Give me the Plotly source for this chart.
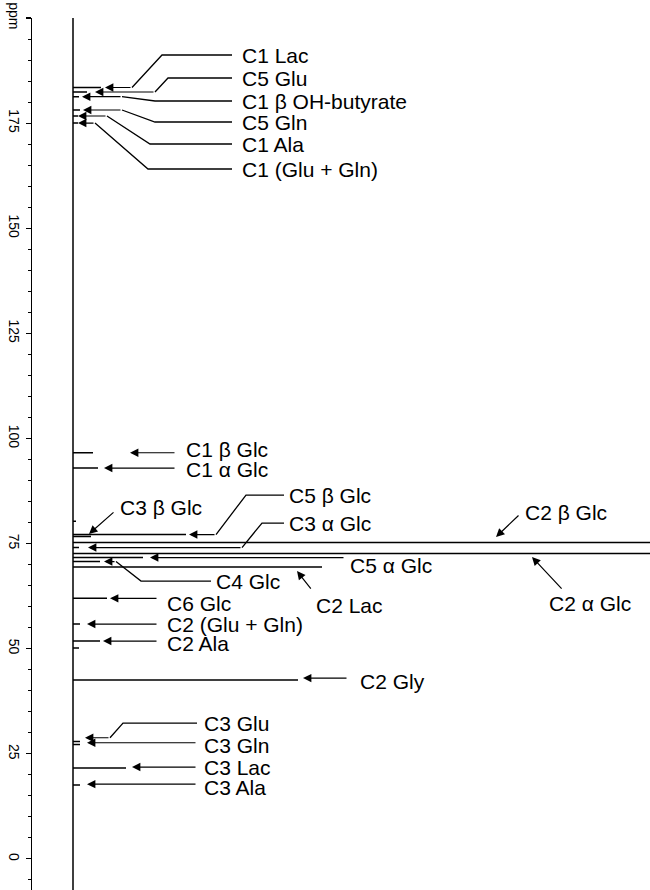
import plotly.graph_objects as go

# ---------------- data ----------------
peak_names = ["C1 Lac", "C5 Glu", "C1 βOHB", "C5 Gln", "C1 Ala", "C1 Glu+Gln",
              "C1 β Glc", "C1 α Glc", "noise", "C5 β Glc", "C3 β Glc", "C2 β Glc",
              "C3 α Glc", "C2 α Glc", "C5 α Glc", "C4 Glc", "C2 Lac", "C6 Glc",
              "C2 Glu+Gln", "C2 Ala", "minor", "C2 Gly", "C3 Glu", "C3 Gln",
              "C3 Lac", "C3 Ala"]
peak_ppm = [183.47, 182.40, 181.28, 178.12, 176.69, 175.02,
            96.60, 92.96, 80.3, 77.14, 76.67, 75.24,
            74.05, 72.62, 71.67, 70.72, 69.41, 61.97,
            55.85, 51.81, 50.14, 42.53, 27.90, 27.19,
            21.60, 17.56]
peak_height = [28, 14, 6, 7, 5, 5,
               20, 25, 3, 113, 18, 700,
               6, 700, 70, 27, 249, 34,
               7, 27, 6, 225, 7, 7,
               53, 7]

tick_vals = [0, 25, 50, 75, 100, 125, 150, 175, 200]
tick_text = ["0", "25", "50", "75", "100", "125", "150", "175", "ppm"]

# ---------------- annotation layout ----------------
# each: label text, label (x, ppm), connector path points (x, ppm) ending at arrow tip
FONT = "Liberation Sans, Arial, sans-serif"
labels = [
    ("C1 Lac",            (167, 191.20), [(159, 191.20), (89, 191.20), (59, 183.47), (32, 183.47)]),
    ("C5 Glu",            (167, 185.73), [(159, 185.73), (95, 185.73), (82, 182.40), (22, 182.40)]),
    ("C1 β OH-butyrate",  (167, 180.26), [(159, 180.26), (82, 180.26), (49, 181.28), (9, 181.28)]),
    ("C5 Gln",            (167, 175.26), [(159, 175.26), (82, 175.26), (49, 178.12), (10, 178.12)]),
    ("C1 Ala",            (167, 170.03), [(159, 170.03), (77, 170.03), (34, 176.69), (5, 176.69)]),
    ("C1 (Glu + Gln)",    (167, 164.08), [(159, 164.08), (75, 164.08), (22, 175.02), (5, 175.02)]),
    ("C1 β Glc",          (111, 97.30),  [(103, 96.60), (57, 96.60)]),
    ("C1 α Glc",          (111, 92.72),  [(103, 92.96), (31, 92.96)]),
    ("C3 β Glc",          (45, 83.68),   [(42, 82.73), (16, 77.30)]),
    ("C5 β Glc",          (214, 86.54),  [(211, 86.54), (173, 86.54), (143, 77.14), (116, 77.14)]),
    ("C3 α Glc",          (214, 79.88),  [(211, 79.88), (189, 79.88), (169, 74.05), (15, 74.05)]),
    ("C2 β Glc",          (450, 82.38),  [(447, 82.02), (423, 76.55)]),
    ("C2 α Glc",          (474, 60.73),  [(490, 63.94), (459, 71.79)]),
    ("C5 α Glc",          (275, 69.89),  [(272, 71.67), (77, 71.67)]),
    ("C4 Glc",            (141, 66.08),  [(138, 66.08), (68, 66.08), (43, 70.72), (31, 70.72)]),
    ("C2 Lac",            (241, 60.37),  [(239, 63.94), (224, 68.46)]),
    ("C6 Glc",            (92, 60.85),   [(85, 61.97), (37, 61.97)]),
    ("C2 (Glu + Gln)",    (92, 55.85),   [(85, 55.85), (14, 55.85)]),
    ("C2 Ala",            (92, 51.33),   [(85, 51.81), (30, 51.81)]),
    ("C2 Gly",            (285, 42.29),  [(275, 43.0), (230, 43.0)]),
    ("C3 Glu",            (129, 32.30),  [(124, 32.30), (50, 32.30), (37, 28.81), (12, 28.81)]),
    ("C3 Gln",            (129, 27.07),  [(124, 27.62), (14, 27.62)]),
    ("C3 Lac",            (129, 21.84),  [(124, 21.84), (59, 21.84)]),
    ("C3 Ala",            (129, 17.08),  [(124, 17.78), (14, 17.78)]),
]

# ---------------- spectrum (stick) ----------------
order = sorted(range(len(peak_ppm)), key=lambda i: -peak_ppm[i])
sx, sy = [0], [201.5]
for i in order:
    sx += [0, peak_height[i], 0]
    sy += [peak_ppm[i], peak_ppm[i], peak_ppm[i]]
sx.append(0)
sy.append(-8)

fig = go.Figure()
fig.add_trace(go.Scatter(x=sx, y=sy, mode="lines",
                         line=dict(color="black", width=1.5),
                         hoverinfo="skip", showlegend=False, cliponaxis=False))

annotations = []
for text, (lx, ly), path in labels:
    if len(path) > 2:
        px = [p[0] for p in path[:-1]]
        py = [p[1] for p in path[:-1]]
        fig.add_trace(go.Scatter(x=px, y=py, mode="lines",
                                 line=dict(color="black", width=1.3),
                                 hoverinfo="skip", showlegend=False))
    (tx, ty) = path[-2]
    (hx, hy) = path[-1]
    annotations.append(dict(x=hx, y=hy, ax=tx, ay=ty, xref="x", yref="y",
                            axref="x", ayref="y", text="", showarrow=True,
                            arrowhead=2, arrowsize=1.4, arrowwidth=1.2,
                            arrowcolor="black", standoff=0, startstandoff=0))
    annotations.append(dict(x=lx, y=ly, xref="x", yref="y", text=text,
                            showarrow=False, xanchor="left", yanchor="middle",
                            font=dict(family=FONT, size=21, color="black")))

fig.update_layout(
    width=650, height=890,
    margin=dict(l=32, r=0, t=18, b=0, autoexpand=False),
    paper_bgcolor="white", plot_bgcolor="white",
    annotations=annotations,
    xaxis=dict(range=[-41, 577], visible=False, showgrid=False, zeroline=False,
               automargin=False),
    yaxis=dict(range=[-7.4, 200], showgrid=False, zeroline=False,
               automargin=False,
               showline=True, linecolor="black", linewidth=1.2,
               ticks="outside", ticklen=5, tickwidth=1.2, tickcolor="black",
               tickvals=tick_vals, ticktext=tick_text, tickangle=90,
               tickfont=dict(family=FONT, size=14, color="black"),
               minor=dict(tick0=0, dtick=5, ticks="outside", ticklen=3,
                          tickcolor="black", tickwidth=1)),
)

# remove the default 8px page margin so the figure sits at the window's corner
fig.write_html("out.html",
               config={"displayModeBar": False, "staticPlot": True},
               post_script="document.body.style.margin='0';document.body.style.overflow='hidden';")
